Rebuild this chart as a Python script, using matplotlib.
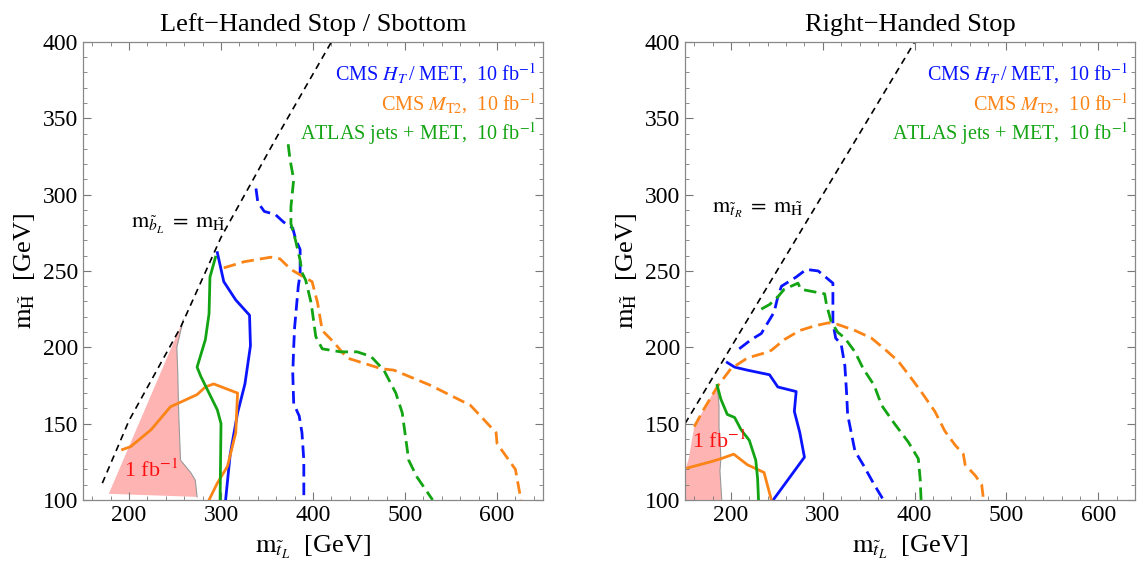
import matplotlib
matplotlib.use("Agg")
import matplotlib.pyplot as plt
from matplotlib.ticker import MultipleLocator

plt.rcParams['font.family'] = ['Liberation Serif', 'DejaVu Serif']
plt.rcParams['mathtext.fontset'] = 'stix'

BLUE = '#0a14ff'
ORANGE = '#fb8417'
GREEN = '#13a413'

# ---- left panel: left-handed stop / sbottom ----
L_diag_x = [171, 200, 256, 300, 359, 420]
L_diag_y = [111, 152, 213, 272, 336, 400]

L_cms_ht_x = [296, 303, 316, 331, 332, 326, 318, 310, 305]
L_cms_ht_y = [262, 243, 231, 221, 201, 176, 157, 130, 100]
L_cms_ht_dash_x = [338, 340, 347, 359, 368, 378, 381, 386, 386, 384, 380, 379, 378, 379, 385, 388, 390, 390]
L_cms_ht_dash_y = [304, 295, 289, 287, 282, 278, 271, 264, 248, 240, 213, 200, 183, 163, 155, 144, 126, 100]

L_atlas_x = [294, 288, 287, 283, 274, 278, 287, 296, 300, 299]
L_atlas_y = [259, 246, 222, 205, 187, 181, 170, 159, 150, 100]
L_atlas_dash_x = [373, 375, 379, 376, 376, 381, 386, 388, 392, 398, 403, 410, 430, 448, 463, 477, 490, 497, 504, 513, 530]
L_atlas_dash_y = [333, 323, 310, 292, 281, 270, 257, 249, 244, 229, 207, 199, 197, 197, 194, 185, 170, 157, 126, 115, 100]

L_mt2_x = [193, 202, 224, 245, 274, 283, 292, 318, 316, 307, 296, 287]
L_mt2_y = [133, 135, 146, 161, 169, 174, 176, 170, 144, 122, 111, 100]
L_mt2_dash_x = [303, 325, 354, 364, 376, 390, 399, 405, 410, 423, 437, 474, 488, 528, 571, 582, 599, 600, 620, 626]
L_mt2_dash_y = [252, 256, 259, 258, 251, 246, 243, 229, 211, 203, 193, 186, 185, 175, 162, 155, 144, 137, 120, 100]

L_1fb_x = [178, 259, 252, 253, 254, 256, 267, 272, 274]
L_1fb_y = [104, 218, 200, 183, 157, 126, 118, 113, 102]

# ---- right panel: right-handed stop ----
R_diag_x = [150, 400]
R_diag_y = [150, 400]

R_cms_ht_x = [196, 204, 218, 242, 251, 271, 269, 275, 280, 246]
R_cms_ht_y = [190, 187, 185, 182, 174, 171, 158, 144, 128, 100]
R_cms_ht_dash_x = [209, 222, 233, 240, 247, 251, 255, 271, 282, 295, 311, 311, 314, 320, 324, 326, 327, 335, 344, 356, 366]
R_cms_ht_dash_y = [199, 205, 209, 216, 223, 233, 240, 246, 251, 250, 242, 216, 206, 202, 188, 169, 156, 132, 123, 110, 100]

R_atlas_x = [185, 189, 196, 204, 211, 220, 227, 229, 230]
R_atlas_y = [175, 166, 156, 154, 146, 139, 126, 114, 100]
R_atlas_dash_x = [233, 242, 251, 258, 273, 276, 302, 304, 309, 316, 324, 335, 344, 356, 364, 378, 393, 404, 406, 407]
R_atlas_dash_y = [225, 228, 233, 238, 242, 238, 235, 228, 217, 210, 206, 197, 186, 175, 162, 150, 138, 127, 114, 100]

R_mt2_x = [153, 178, 189, 203, 218, 236, 244]
R_mt2_y = [121, 125, 127, 130, 123, 118, 100]
R_mt2_dash_x = [160, 171, 186, 200, 218, 235, 244, 258, 275, 291, 306, 316, 335, 353, 367, 382, 396, 407, 422, 433, 444, 453, 455, 466, 473, 475]
R_mt2_dash_y = [148, 160, 175, 186, 193, 196, 198, 205, 211, 214, 216, 215, 211, 206, 199, 191, 180, 171, 158, 145, 136, 130, 123, 116, 110, 100]

R_1fb_x = [140, 154, 160, 185, 187, 187, 188, 189, 188, 190]
R_1fb_y = [100, 127, 148, 175, 162, 147, 140, 127, 119, 100]

legend_labels = [r'CMS $H_T\,$/ MET,  10 fb$^{-1}$',
                 r'CMS $M_{\mathrm{T2}}$,  10 fb$^{-1}$',
                 r'ATLAS jets + MET,  10 fb$^{-1}$']
legend_colors = [BLUE, ORANGE, GREEN]


def style_axes(ax, xmax, title):
    ax.set_xlim(150, xmax)
    ax.set_ylim(100, 400)
    ax.xaxis.set_major_locator(MultipleLocator(100))
    ax.xaxis.set_minor_locator(MultipleLocator(20))
    ax.yaxis.set_major_locator(MultipleLocator(50))
    ax.yaxis.set_minor_locator(MultipleLocator(10))
    ax.tick_params(which='both', direction='in', top=True, right=True, colors='#777777',
                   labelcolor='black', labelsize=17)
    ax.tick_params(which='major', length=6, width=0.8)
    ax.tick_params(which='minor', length=3, width=0.6)
    for s in ax.spines.values():
        s.set_color('#888888')
        s.set_linewidth(0.9)
    ax.set_title(title, fontsize=19, pad=8)
    ax.set_xlabel(r'$\mathrm{m}_{\tilde{t}_L}$  [GeV]', fontsize=19, labelpad=6)
    ax.set_ylabel(r'$\mathrm{m}_{\tilde{\mathrm{H}}}$  [GeV]', fontsize=19, labelpad=4)
    for i, (lab, c) in enumerate(zip(legend_labels, legend_colors)):
        ax.text(0.985, 0.93 - i * 0.065, lab, color=c, fontsize=14.5,
                transform=ax.transAxes, ha='right', va='center')


def draw_panel(ax, d):
    # shaded 1/fb region, grey outline only on its right-hand side
    ax.fill(d['fb_x'], d['fb_y'], facecolor='#ffb4b4', edgecolor='none', zorder=1)
    k = d['edge']
    ax.plot(d['fb_x'][k:], d['fb_y'][k:], color='#999999', lw=0.8, zorder=1)
    ax.plot(d['diag_x'], d['diag_y'], color='black', lw=1.2, ls=(0, (4, 3)), zorder=2)
    dash = (0, (4.5, 2.2))
    ax.plot(d['ht_x'], d['ht_y'], color=BLUE, lw=2.0, zorder=3)
    ax.plot(d['htd_x'], d['htd_y'], color=BLUE, lw=2.0, ls=dash, zorder=3)
    ax.plot(d['mt2_x'], d['mt2_y'], color=ORANGE, lw=2.0, zorder=3)
    ax.plot(d['mt2d_x'], d['mt2d_y'], color=ORANGE, lw=2.0, ls=dash, zorder=3)
    ax.plot(d['at_x'], d['at_y'], color=GREEN, lw=2.0, zorder=3)
    ax.plot(d['atd_x'], d['atd_y'], color=GREEN, lw=2.0, ls=dash, zorder=3)


fig = plt.figure(figsize=(11.37, 5.63), dpi=100)
axL = fig.add_axes([0.073, 0.112, 0.4046, 0.8135])
axR = fig.add_axes([0.6025, 0.112, 0.3958, 0.8135])

draw_panel(axL, dict(fb_x=L_1fb_x, fb_y=L_1fb_y, edge=1, diag_x=L_diag_x, diag_y=L_diag_y,
                     ht_x=L_cms_ht_x, ht_y=L_cms_ht_y, htd_x=L_cms_ht_dash_x, htd_y=L_cms_ht_dash_y,
                     mt2_x=L_mt2_x, mt2_y=L_mt2_y, mt2d_x=L_mt2_dash_x, mt2d_y=L_mt2_dash_y,
                     at_x=L_atlas_x, at_y=L_atlas_y, atd_x=L_atlas_dash_x, atd_y=L_atlas_dash_y))
draw_panel(axR, dict(fb_x=R_1fb_x, fb_y=R_1fb_y, edge=3, diag_x=R_diag_x, diag_y=R_diag_y,
                     ht_x=R_cms_ht_x, ht_y=R_cms_ht_y, htd_x=R_cms_ht_dash_x, htd_y=R_cms_ht_dash_y,
                     mt2_x=R_mt2_x, mt2_y=R_mt2_y, mt2d_x=R_mt2_dash_x, mt2d_y=R_mt2_dash_y,
                     at_x=R_atlas_x, at_y=R_atlas_y, atd_x=R_atlas_dash_x, atd_y=R_atlas_dash_y))

style_axes(axL, 650, 'Left\u2212Handed Stop / Sbottom')
style_axes(axR, 640, 'Right\u2212Handed Stop')

axL.text(254, 280, r'$\mathrm{m}_{\tilde{b}_L}\;=\;\mathrm{m}_{\tilde{\mathrm{H}}}$', fontsize=16,
         ha='center', va='center')
axR.text(229, 290, r'$\mathrm{m}_{\tilde{t}_R}\;=\;\mathrm{m}_{\tilde{\mathrm{H}}}$', fontsize=16,
         ha='center', va='center')
axL.text(224, 119, r'1 fb$^{-1}$', color='#ff1010', fontsize=16, ha='center', va='center', zorder=4)
axR.text(187, 138, r'1 fb$^{-1}$', color='#ff1010', fontsize=16, ha='center', va='center', zorder=4)

fig.savefig('out.png', dpi=100)
